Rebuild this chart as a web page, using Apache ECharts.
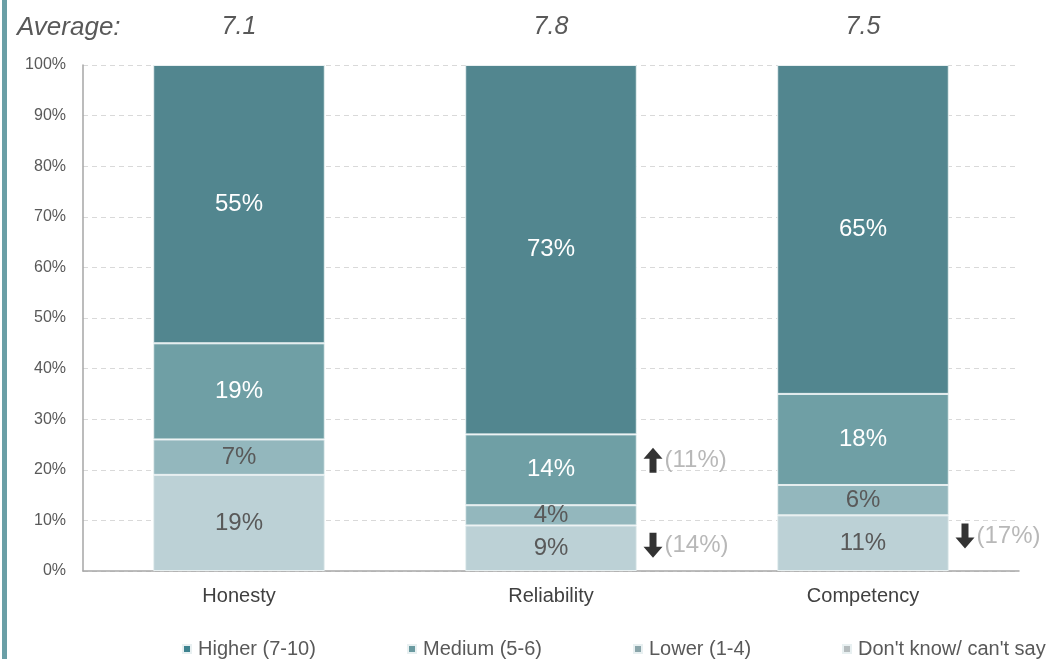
<!DOCTYPE html>
<html>
<head>
<meta charset="utf-8">
<script src="https://cdn.jsdelivr.net/npm/echarts@6/dist/echarts.min.js"></script>
<style>
  html, body { margin: 0; padding: 0; background: #fff; }
  #main { width: 1051px; height: 659px; }
</style>
</head>
<body>
<div id="main"></div>
<script>
// data
var categories = ['Honesty', 'Reliability', 'Competency'];
var averages = ['7.1', '7.8', '7.5'];
var seriesNames = ['Higher (7-10)', 'Medium (5-6)', 'Lower (1-4)', "Don't know/ can't say"];
var higher = [55, 73, 65];
var medium = [19, 14, 18];
var lower = [7, 4, 6];
var dontKnow = [19, 9, 11];
var yTicks = [0, 10, 20, 30, 40, 50, 60, 70, 80, 90, 100];

// change markers next to bars
var noteCats = ['Reliability', 'Reliability', 'Competency'];
var noteY = [21.9, 5.1, 6.9];
var noteDir = ['up', 'down', 'down'];
var noteText = ['(11%)', '(14%)', '(17%)'];

var colors = ['#52868f', '#6f9fa5', '#93b7bd', '#bcd1d6'];
var legendColors = ['#3f8390', '#6a9aa0', '#8aa5aa', '#b5bcbe'];
var legendLeft = [177, 402, 628, 837];

var chart = echarts.init(document.getElementById('main'));

function barSeries(name, data, color, labelColor) {
    return {
        name: name,
        type: 'bar',
        stack: 'total',
        barWidth: '55%',
        data: data,
        itemStyle: { color: color, borderColor: '#e8f0f1', borderWidth: 1 },
        label: {
            show: true,
            position: 'inside',
            formatter: '{c}%',
            fontSize: 24,
            fontFamily: 'Liberation Sans',
            color: labelColor
        },
        emphasis: { disabled: true }
    };
}

var upPath = 'path://M9.5,0 L19,11 L13,11 L13,25 L6,25 L6,11 L0,11 Z';
var downPath = 'path://M6,0 L13,0 L13,14 L19,14 L9.5,25 L0,14 L6,14 Z';

var noteData = noteCats.map(function (c, i) {
    return {
        value: [c, noteY[i]],
        symbol: noteDir[i] === 'up' ? upPath : downPath,
        label: { formatter: noteText[i] }
    };
});

var legends = seriesNames.map(function (n, i) {
    return {
        data: [{ name: n, itemStyle: { color: legendColors[i] } }],
        left: legendLeft[i],
        top: 634,
        icon: 'rect',
        itemWidth: 8,
        itemHeight: 8,
        selectedMode: false,
        textStyle: { fontSize: 20, color: '#595959', fontFamily: 'Liberation Sans', padding: [0, 0, 0, 2] }
    };
});

var option = {
    animation: false,
    textStyle: { fontFamily: 'Liberation Sans' },
    grid: { left: 83, right: 32, top: 65, bottom: 88 },
    legend: legends,
    xAxis: [{
        type: 'category',
        data: categories,
        axisLine: { lineStyle: { color: '#a6a6a6', width: 1.5 } },
        axisTick: { show: false },
        axisLabel: { fontSize: 20, color: '#404040', margin: 15 }
    }, {
        type: 'category',
        position: 'top',
        data: averages,
        axisLine: { show: false },
        axisTick: { show: false },
        axisLabel: { fontSize: 25, fontStyle: 'italic', color: '#595959', margin: 25 }
    }],
    yAxis: {
        type: 'value',
        min: 0,
        max: 100,
        interval: 10,
        axisLine: { show: true, lineStyle: { color: '#a6a6a6', width: 1.5 } },
        axisTick: { show: false },
        axisLabel: {
            fontSize: 16,
            color: '#595959',
            margin: 17,
            formatter: function (v) { return yTicks.indexOf(v) >= 0 ? v + '%' : ''; }
        },
        splitLine: { lineStyle: { color: '#d9d9d9', type: [5, 4] } }
    },
    series: [
        barSeries(seriesNames[3], dontKnow, colors[3], '#595959'),
        barSeries(seriesNames[2], lower, colors[2], '#595959'),
        barSeries(seriesNames[1], medium, colors[1], '#ffffff'),
        barSeries(seriesNames[0], higher, colors[0], '#ffffff'),
        {
            name: 'notes',
            type: 'scatter',
            data: noteData,
            symbolSize: [19, 25],
            symbolOffset: [102, 0],
            itemStyle: { color: '#000000' },
            label: {
                show: true,
                position: 'right',
                distance: 2,
                fontSize: 24,
                color: '#a6a6a6'
            },
            silent: true,
            z: 5
        }
    ],
    graphic: [
        {
            type: 'rect',
            left: 2,
            top: 0,
            shape: { width: 5, height: 659 },
            style: { fill: '#6a9fa6' }
        },
        {
            type: 'text',
            x: 17,
            y: 28,
            style: {
                text: 'Average:',
                fontSize: 26,
                fontStyle: 'italic',
                fill: '#595959',
                verticalAlign: 'middle',
                fontFamily: 'Liberation Sans'
            }
        }
    ]
};

chart.setOption(option);
</script>
</body>
</html>
